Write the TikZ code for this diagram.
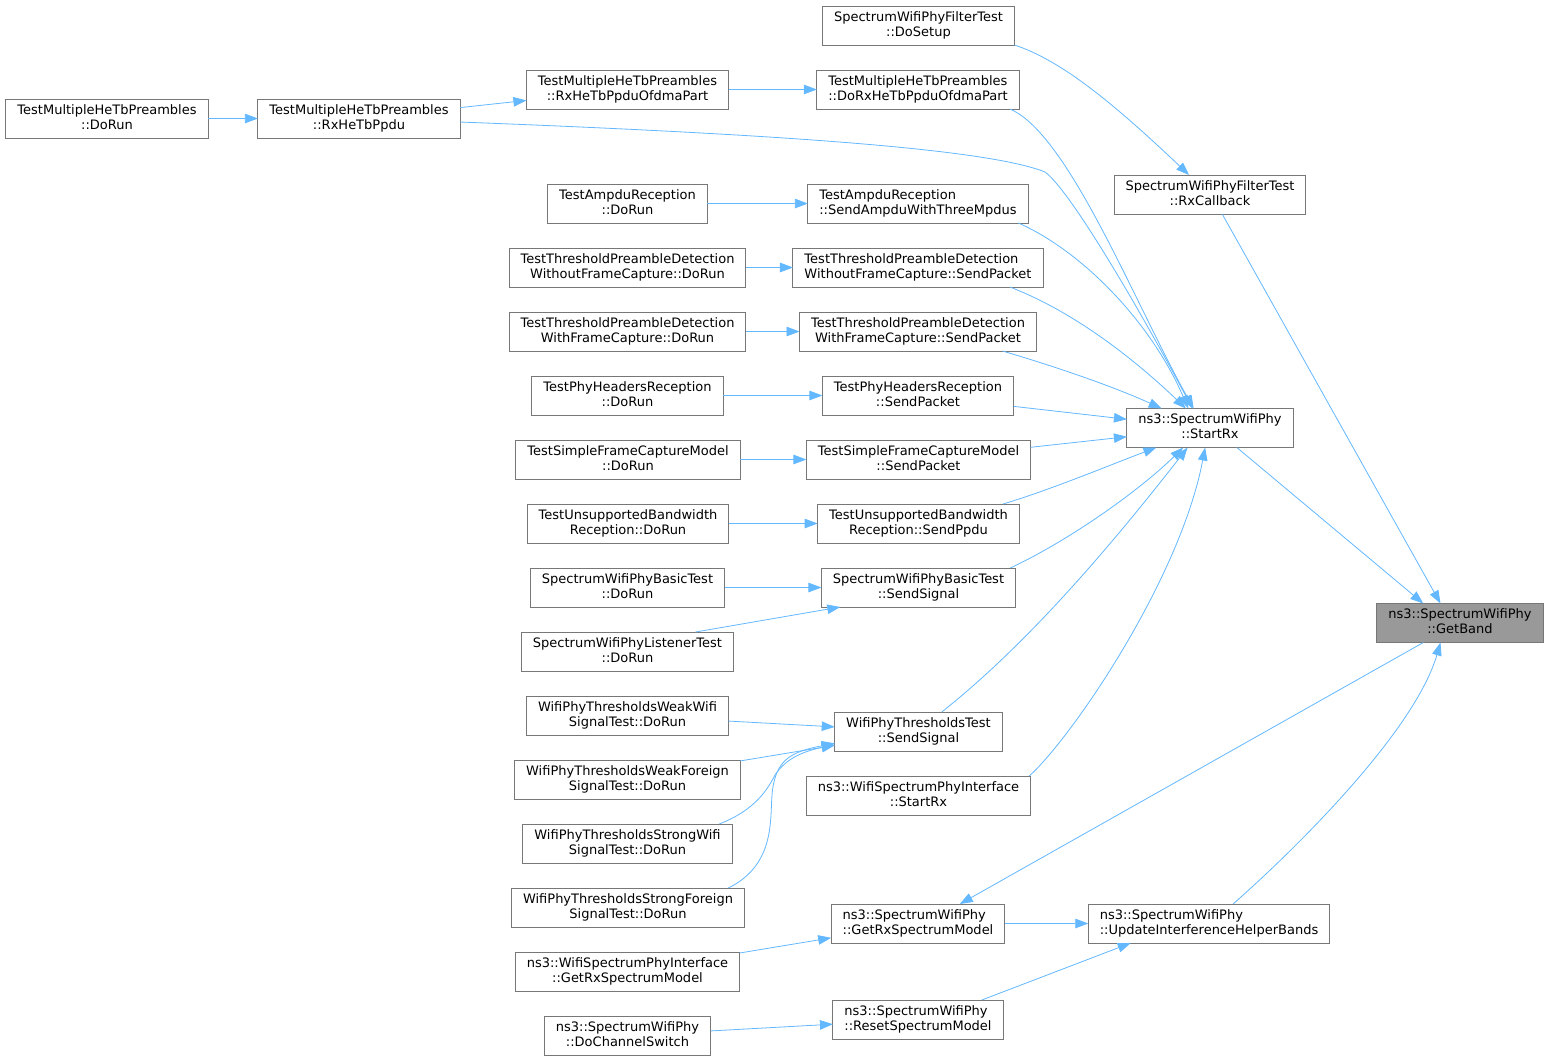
\documentclass[tikz,border=0pt]{standalone}
\usepackage{fontspec}
\setmainfont{DejaVu Sans}
\usetikzlibrary{arrows.meta}

\definecolor{edgeblue}{HTML}{63B8FF}
\definecolor{boxgrey}{HTML}{777777}
\definecolor{hilite}{HTML}{999999}

\newcommand{\fname}[2]{\begin{tabular}{@{}l@{}}#1\\\multicolumn{1}{@{}c@{}}{#2}\end{tabular}}

\begin{document}
\begin{tikzpicture}[x=1pt, y=-1pt,
    fn/.style={draw=boxgrey, fill=white, line width=1pt,
               minimum height=39pt, inner xsep=11.5pt, inner ysep=0pt,
               outer sep=0pt, font=\fontsize{13}{15}\selectfont},
    hl/.style={fn, fill=hilite},
    call/.style={draw=edgeblue, line width=0.8pt,
                 -{Triangle[length=13pt, width=9.5pt]}},
    ]
\useasboundingbox[fill=white] (0,0) rectangle (1548,1061);

\node[hl] (GetBand) at (1460,623) {\fname{ns3::SpectrumWifiPhy}{::GetBand}};
\node[fn] (StartRx) at (1210,428) {\fname{ns3::SpectrumWifiPhy}{::StartRx}};
\node[fn] (FilterRxCallback) at (1210,194.5) {\fname{SpectrumWifiPhyFilterTest}{::RxCallback}};
\node[fn] (FilterDoSetup) at (918.5,25.5) {\fname{SpectrumWifiPhyFilterTest}{::DoSetup}};
\node[fn] (DoRxOfdma) at (918,89.5) {\fname{TestMultipleHeTbPreambles}{::DoRxHeTbPpduOfdmaPart}};
\node[fn] (RxOfdma) at (627.5,89.5) {\fname{TestMultipleHeTbPreambles}{::RxHeTbPpduOfdmaPart}};
\node[fn] (RxHeTbPpdu) at (359,118.5) {\fname{TestMultipleHeTbPreambles}{::RxHeTbPpdu}};
\node[fn] (HeTbDoRun) at (107,118.5) {\fname{TestMultipleHeTbPreambles}{::DoRun}};
\node[fn] (AmpduDoRun) at (627.5,203.5) {\fname{TestAmpduReception}{::DoRun}};
\node[fn] (AmpduSend) at (918,203.5) {\fname{TestAmpduReception}{::SendAmpduWithThreeMpdus}};
\node[fn] (WithoutDoRun) at (627.5,267.5) {\fname{TestThresholdPreambleDetection}{WithoutFrameCapture::DoRun}};
\node[fn] (WithoutSend) at (918,267.5) {\fname{TestThresholdPreambleDetection}{WithoutFrameCapture::SendPacket}};
\node[fn] (WithDoRun) at (627.5,331.5) {\fname{TestThresholdPreambleDetection}{WithFrameCapture::DoRun}};
\node[fn] (WithSend) at (918,331.5) {\fname{TestThresholdPreambleDetection}{WithFrameCapture::SendPacket}};
\node[fn] (HeadersDoRun) at (627.5,395.5) {\fname{TestPhyHeadersReception}{::DoRun}};
\node[fn] (HeadersSend) at (918,395.5) {\fname{TestPhyHeadersReception}{::SendPacket}};
\node[fn] (CaptureDoRun) at (628,459.5) {\fname{TestSimpleFrameCaptureModel}{::DoRun}};
\node[fn] (CaptureSend) at (918.5,459.5) {\fname{TestSimpleFrameCaptureModel}{::SendPacket}};
\node[fn] (BandwidthDoRun) at (628,523.5) {\fname{TestUnsupportedBandwidth}{Reception::DoRun}};
\node[fn] (BandwidthSend) at (918.5,523.5) {\fname{TestUnsupportedBandwidth}{Reception::SendPpdu}};
\node[fn] (BasicDoRun) at (627.5,587.5) {\fname{SpectrumWifiPhyBasicTest}{::DoRun}};
\node[fn] (BasicSend) at (918.5,587.5) {\fname{SpectrumWifiPhyBasicTest}{::SendSignal}};
\node[fn] (ListenerDoRun) at (627.5,651.5) {\fname{SpectrumWifiPhyListenerTest}{::DoRun}};
\node[fn] (ThrSend) at (918.5,731.5) {\fname{WifiPhyThresholdsTest}{::SendSignal}};
\node[fn] (WeakWifi) at (627.5,715.5) {\fname{WifiPhyThresholdsWeakWifi}{SignalTest::DoRun}};
\node[fn] (WeakForeign) at (627.5,779.5) {\fname{WifiPhyThresholdsWeakForeign}{SignalTest::DoRun}};
\node[fn] (StrongWifi) at (627.5,843.5) {\fname{WifiPhyThresholdsStrongWifi}{SignalTest::DoRun}};
\node[fn] (StrongForeign) at (628,907.5) {\fname{WifiPhyThresholdsStrongForeign}{SignalTest::DoRun}};
\node[fn] (IfaceStartRx) at (918.5,795.5) {\fname{ns3::WifiSpectrumPhyInterface}{::StartRx}};
\node[fn] (GetRxSM) at (918,923.5) {\fname{ns3::SpectrumWifiPhy}{::GetRxSpectrumModel}};
\node[fn] (UpdateBands) at (1209,923.5) {\fname{ns3::SpectrumWifiPhy}{::UpdateInterferenceHelperBands}};
\node[fn] (IfaceGetRxSM) at (627.5,971.5) {\fname{ns3::WifiSpectrumPhyInterface}{::GetRxSpectrumModel}};
\node[fn] (ResetSM) at (918,1019.5) {\fname{ns3::SpectrumWifiPhy}{::ResetSpectrumModel}};
\node[fn] (DoChannelSwitch) at (627.5,1035.5) {\fname{ns3::SpectrumWifiPhy}{::DoChannelSwitch}};

\draw[call] (HeTbDoRun) -- (RxHeTbPpdu);
\draw[call] (RxHeTbPpdu) -- (RxOfdma);
\draw[call] (RxOfdma) -- (DoRxOfdma);
\draw[call] (DoRxOfdma.348) .. controls (1068,133) and (1134,302) .. (StartRx.130);
\draw[call] (RxHeTbPpdu.358) .. controls (800,135) and (990,150) .. (1045,172)
    .. controls (1070,190) and (1140,310) .. (StartRx.132);
\draw[call] (FilterDoSetup.south east) .. controls (1060,60) and (1110,100) .. (FilterRxCallback.137);
\draw[call] (FilterRxCallback.302) -- (GetBand.135);
\draw[call] (AmpduDoRun) -- (AmpduSend);
\draw[call] (AmpduSend.349) .. controls (1080,250) and (1150,320) .. (StartRx.138);
\draw[call] (WithoutDoRun) -- (WithoutSend);
\draw[call] (WithoutSend.348) .. controls (1070,310) and (1130,355) .. (StartRx.141);
\draw[call] (WithDoRun) -- (WithSend);
\draw[call] (WithSend.347) .. controls (1050,365) and (1110,385) .. (StartRx.158);
\draw[call] (HeadersDoRun) -- (HeadersSend);
\draw[call] (HeadersSend) -- (StartRx.174);
\draw[call] (CaptureDoRun) -- (CaptureSend);
\draw[call] (CaptureSend) -- (StartRx.186);
\draw[call] (BandwidthDoRun) -- (BandwidthSend);
\draw[call] (BandwidthSend.13) .. controls (1050,490) and (1110,465) .. (StartRx.200);
\draw[call] (BasicDoRun) -- (BasicSend);
\draw[call] (ListenerDoRun.16) -- (BasicSend.194);
\draw[call] (BasicSend.12) .. controls (1070,540) and (1140,490) .. (StartRx.216);
\draw[call] (WeakWifi) -- (ThrSend);
\draw[call] (WeakForeign) -- (ThrSend);
\draw[call] (StrongWifi.12) .. controls (750,812) and (765,795) .. (775,775)
    .. controls (785,760) and (800,752) .. (ThrSend.189);
\draw[call] (StrongForeign.11) .. controls (775,865) and (770,820) .. (772,795)
    .. controls (775,760) and (790,752) .. (ThrSend.188);
\draw[call] (ThrSend.40) .. controls (1020,650) and (1100,560) .. (StartRx.221);
\draw[call] (IfaceStartRx.10) .. controls (1070,740) and (1180,580) .. (StartRx.256);
\draw[call] (StartRx.324) -- (GetBand.152);
\draw[call] (GetBand.208) -- (GetRxSM.25);
\draw[call] (GetRxSM) -- (UpdateBands);
\draw[call] (UpdateBands.39) .. controls (1300,845) and (1415,730) .. (GetBand.225);
\draw[call] (IfaceGetRxSM) -- (GetRxSM);
\draw[call] (ResetSM.17) -- (UpdateBands.194);
\draw[call] (DoChannelSwitch) -- (ResetSM);
\end{tikzpicture}
\end{document}
